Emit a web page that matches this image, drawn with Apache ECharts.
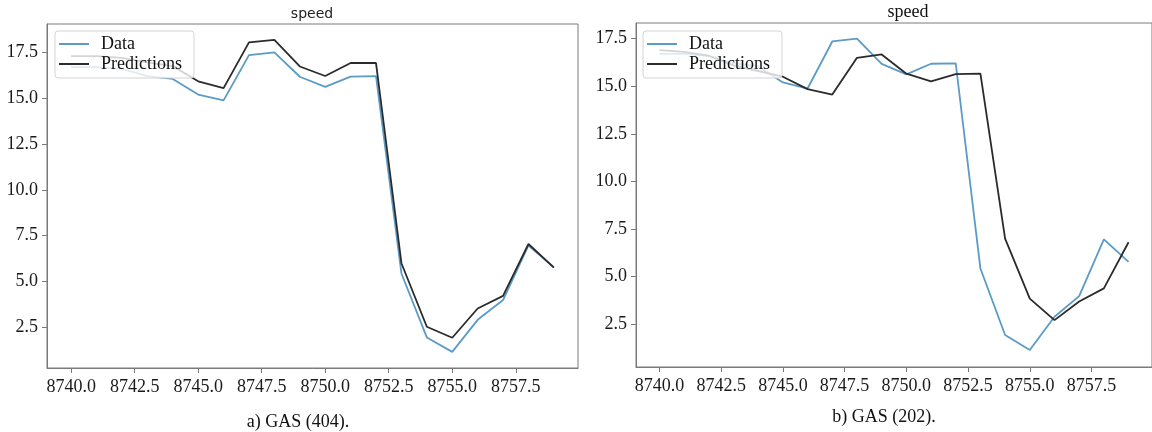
<!DOCTYPE html>
<html><head><meta charset="utf-8">
<script src="https://cdn.jsdelivr.net/npm/echarts@6/dist/echarts.min.js"></script>
<style>html,body{margin:0;padding:0;background:#fff}#c{width:1152px;height:432px}</style>
</head><body><div id="c"></div>
<script>
const timeSteps = [8740, 8741, 8742, 8743, 8744, 8745, 8746, 8747, 8748, 8749, 8750, 8751, 8752, 8753, 8754, 8755, 8756, 8757, 8758, 8759];
const dataSpeed = [16.7, 16.7, 16.6, 16.2, 16.05, 15.2, 14.88, 17.35, 17.5, 16.17, 15.62, 16.18, 16.2, 5.43, 1.94, 1.15, 2.9, 3.98, 6.96, 5.78];
const predGas404 = [17.3, 17.3, 17.2, 16.95, 16.75, 15.92, 15.55, 18.05, 18.18, 16.73, 16.21, 16.92, 16.92, 5.99, 2.52, 1.92, 3.52, 4.21, 7.04, 5.75];
const predGas202 = [16.9, 16.8, 16.6, 16.1, 15.8, 15.5, 14.85, 14.56, 16.49, 16.67, 15.66, 15.25, 15.64, 15.66, 7.0, 3.85, 2.72, 3.7, 4.39, 6.81];
const xTickValues = [8740, 8742.5, 8745, 8747.5, 8750, 8752.5, 8755, 8757.5];
const yTickValues = [2.5, 5, 7.5, 10, 12.5, 15, 17.5];
const seriesNames = ['Data', 'Predictions'];
const panelTitles = ['speed', 'speed'];
const captions = ['a) GAS (404).', 'b) GAS (202).'];

const SERIF = '"Liberation Serif", "Times New Roman", serif';
const AXIS_GREY = '#7a7a7a';
const DATA_COLOR = '#5b9bc6';
const PRED_COLOR = '#2b2b2b';

function xAxisFor(gi) {
  return {
    type: 'value', gridIndex: gi, min: 8739.05, max: 8759.95,
    axisLine: { show: true, onZero: false, lineStyle: { color: AXIS_GREY, width: 1 } },
    axisTick: { show: true, customValues: xTickValues, length: 5, lineStyle: { color: AXIS_GREY } },
    axisLabel: { customValues: xTickValues, formatter: v => v.toFixed(1), fontFamily: SERIF, fontSize: 18, color: '#1a1a1a', margin: 10 },
    splitLine: { show: false }
  };
}
function yAxisFor(gi, mn, mx) {
  return {
    type: 'value', gridIndex: gi, min: mn, max: mx,
    axisLine: { show: true, onZero: false, lineStyle: { color: AXIS_GREY, width: 1 } },
    axisTick: { show: true, customValues: yTickValues, length: 5, lineStyle: { color: AXIS_GREY } },
    axisLabel: { customValues: yTickValues, formatter: v => v.toFixed(1), fontFamily: SERIF, fontSize: 18, color: '#1a1a1a', margin: 9 },
    splitLine: { show: false }
  };
}
function legendFor(left, top) {
  return {
    data: seriesNames.map(n => ({ name: n, icon: 'rect' })),
    orient: 'vertical', left: left, top: top,
    padding: [4, 12, 5, 4], itemGap: 2, itemWidth: 30, itemHeight: 2,
    backgroundColor: 'rgba(255,255,255,0.8)', borderColor: '#d4d4d4', borderWidth: 1, borderRadius: 3,
    textStyle: { fontFamily: SERIF, fontSize: 18, color: '#111', padding: [0, 0, 0, 7] },
    selectedMode: false
  };
}
function lineSeries(name, values, gi, color) {
  return {
    name: name, type: 'line', xAxisIndex: gi, yAxisIndex: gi,
    data: timeSteps.map((t, i) => [t, values[i]]),
    symbol: 'none', showSymbol: false,
    lineStyle: { color: color, width: 1.8 }, itemStyle: { color: color },
    z: 3
  };
}

const chart = echarts.init(document.getElementById('c'));
chart.setOption({
  animation: false,
  backgroundColor: '#ffffff',
  grid: [
    { left: 47, top: 24, width: 531, height: 344, show: true, borderColor: AXIS_GREY, borderWidth: 1, backgroundColor: 'transparent' },
    { left: 636, top: 23, width: 519, height: 344, show: true, borderColor: AXIS_GREY, borderWidth: 1, backgroundColor: 'transparent' }
  ],
  xAxis: [xAxisFor(0), xAxisFor(1)],
  yAxis: [yAxisFor(0, 0.27, 19.05), yAxisFor(1, 0.26, 18.32)],
  legend: [legendFor(55, 31), legendFor(643, 31)],
  series: [
    lineSeries(seriesNames[0], dataSpeed, 0, DATA_COLOR),
    lineSeries(seriesNames[1], predGas404, 0, PRED_COLOR),
    lineSeries(seriesNames[0], dataSpeed, 1, DATA_COLOR),
    lineSeries(seriesNames[1], predGas202, 1, PRED_COLOR)
  ],
  graphic: [
    { type: 'text', x: 312, y: 14, style: { text: panelTitles[0], font: '14px "DejaVu Sans"', textAlign: 'center', textVerticalAlign: 'middle', fill: '#222' } },
    { type: 'text', x: 908, y: 12, style: { text: panelTitles[1], font: '18px "Liberation Serif"', textAlign: 'center', textVerticalAlign: 'middle', fill: '#111' } },
    { type: 'text', x: 298, y: 422, style: { text: captions[0], font: '18px "Liberation Serif"', textAlign: 'center', textVerticalAlign: 'middle', fill: '#111' } },
    { type: 'text', x: 884, y: 417, style: { text: captions[1], font: '18px "Liberation Serif"', textAlign: 'center', textVerticalAlign: 'middle', fill: '#111' } }
  ]
});
</script>
</body></html>
